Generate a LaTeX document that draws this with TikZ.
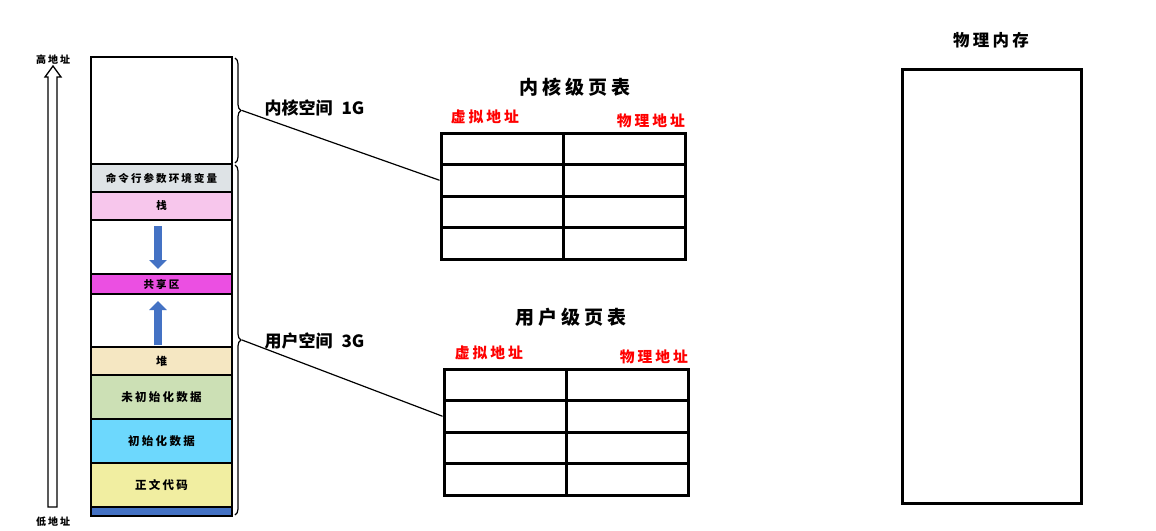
\documentclass[tikz,border=0pt]{standalone}
\usepackage{fontspec}
\newfontfamily\cjk{Noto Sans CJK SC}
\newfontfamily\cjksp{Noto Sans CJK SC}[LetterSpace=20]
\usetikzlibrary{decorations.pathreplacing,arrows.meta}
\definecolor{envgray}{HTML}{DEE3E6}
\definecolor{stackpink}{HTML}{F7C6EC}
\definecolor{sharemag}{HTML}{EB4FE2}
\definecolor{heapbeige}{HTML}{F5E7C2}
\definecolor{bssgreen}{HTML}{CCE0B5}
\definecolor{datacyan}{HTML}{6DD8FD}
\definecolor{textyellow}{HTML}{F1EEA1}
\definecolor{segblue}{HTML}{4472C4}
\tikzset{
  seg/.style={draw,line width=1.5pt,minimum width=141pt,inner sep=0pt},
  cell/.style={draw,line width=3pt,minimum width=122pt,minimum height=31.5pt,inner sep=0pt},
  brc/.style={decorate,decoration={brace,amplitude=6pt},line width=1.2pt},
  growarrow/.style={line width=7.5pt,segblue,-{Triangle[length=9pt,width=17pt]}},
  ttl/.style={font=\cjksp\bfseries\fontsize{19}{22}\selectfont},
  addr/.style={text=red,font=\cjksp\bfseries\fontsize{14.8}{17}\selectfont}
}
\begin{document}
\begin{tikzpicture}[x=1pt,y=-1pt,font=\cjk\bfseries]
\useasboundingbox (0,0) rectangle (1156,530);
% address space of one process
\foreach \t/\b/\c/\s/\l [count=\i] in {57/164/white/10/{},164/192/envgray/10.5/命令行参数环境变量,
  192/220/stackpink/10.5/栈,220/274/white/10/{},274/294/sharemag/10.5/共享区,294/347/white/10/{},
  347/375/heapbeige/11/堆,375/419/bssgreen/11.5/未初始化数据,419/463/datacyan/11.5/初始化数据,
  463/507/textyellow/11.5/正文代码,507/516/segblue/10/{}}
  \node[seg,fill=\c,minimum height={\b-\t},font=\cjksp\bfseries\fontsize{\s}{\s}\selectfont] (seg\i) at (161.5,{(\t+\b)/2}) {\l};
\draw[growarrow] (158,226) -- (158,269);
\draw[growarrow] (158,345) -- (158,301);
% address direction
\draw[line width=1.3pt] (48,507) -- (48,77) -- (45,77) -- (53,66) -- (61,77) -- (57,77) -- (57,507) -- cycle;
\node[font=\cjksp\bfseries\fontsize{10}{11}\selectfont] (high) at (53,60) {高地址};
\node[font=\cjksp\bfseries\fontsize{10}{11}\selectfont] (low) at (53,522) {低地址};
% kernel / user split
\draw[brc] (235,58) -- (235,163);
\draw[brc] (235,165) -- (235,515);
\coordinate (ktip) at (242,110.5);
\coordinate (utip) at (242,340);
\node[anchor=west,font=\cjk\bfseries\fontsize{17}{19}\selectfont] (kspace) at (261,108) {内核空间\hspace{9pt}1G};
\node[anchor=west,font=\cjk\bfseries\fontsize{17}{19}\selectfont] (uspace) at (261,341) {用户空间\hspace{9pt}3G};
% page tables
\foreach \r in {1,...,4} \foreach \c in {1,2} {
  \node[cell] (k\r\c) at ({502+(\c-1)*122},{148.75+(\r-1)*31.5}) {};
  \node[cell] (u\r\c) at ({505+(\c-1)*122},{384.75+(\r-1)*31.5}) {};
}
\node[ttl] (ktitle) at (575,87) {内核级页表};
\node[addr] (kvirt) at (485,117) {虚拟地址};
\node[addr] (kphys) at (651,121) {物理地址};
\node[ttl] (utitle) at (571,317) {用户级页表};
\node[addr] (uvirt) at (489,353) {虚拟地址};
\node[addr] (uphys) at (654,357) {物理地址};
\draw[line width=1.2pt] (ktip) -- (k21.west);
\draw[line width=1.2pt] (utip) -- (u21.west);
% physical memory
\node[draw,line width=3pt,minimum width=179pt,minimum height=434pt] (phys) at (991.5,286) {};
\node[font=\cjksp\bfseries\fontsize{16.5}{18}\selectfont] (ptitle) at (991,40) {物理内存};
\end{tikzpicture}
\end{document}
